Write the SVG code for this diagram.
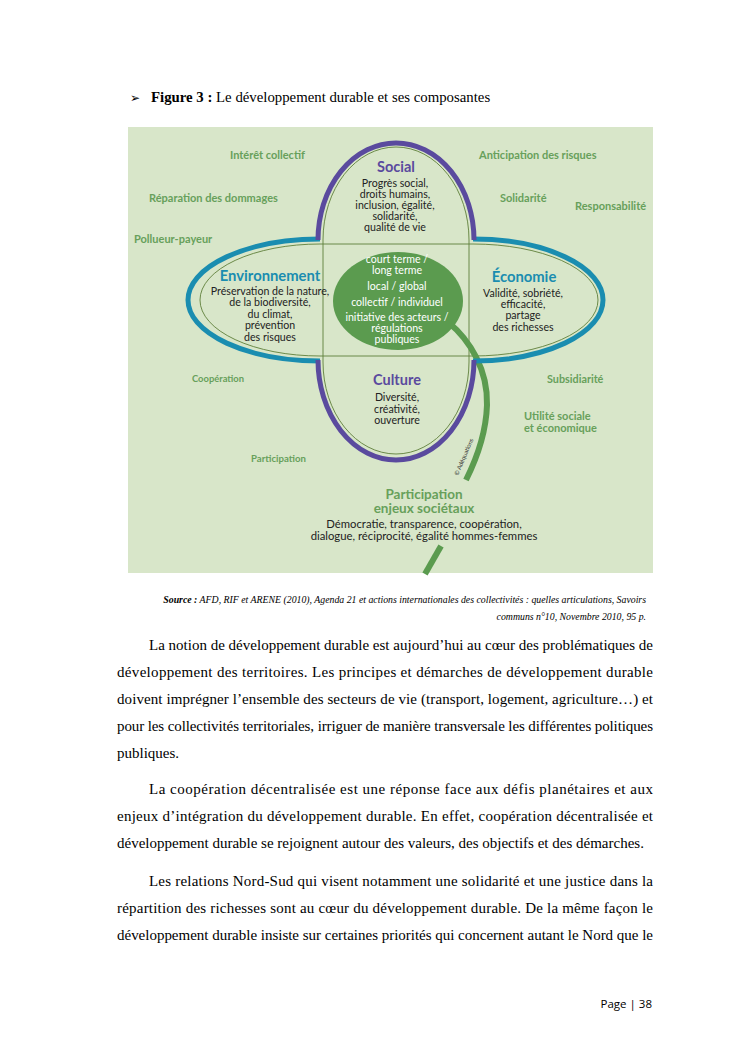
<svg xmlns="http://www.w3.org/2000/svg" width="745" height="1053" viewBox="0 0 745 1053">
<style>
.doc{font-family:"Liberation Serif","Times New Roman",serif;font-size:15px;fill:#000}
.dg{font-family:Lato,"Open Sans",sans-serif}
.out{font-family:Lato,"Open Sans",sans-serif;font-weight:bold;fill:#67a05b;font-size:11px}
.outs{font-family:Lato,"Open Sans",sans-serif;font-weight:bold;fill:#67a05b;font-size:9.4px}
.body{font-family:Lato,"Open Sans",sans-serif;fill:#222;font-size:10.6px;text-anchor:middle}
.ctr{font-family:Lato,"Open Sans",sans-serif;fill:#fff;font-size:10.6px;text-anchor:middle}
.tP{font-family:Lato,"Open Sans",sans-serif;font-weight:bold;fill:#5a4a9e;font-size:14.5px;text-anchor:middle}
.tT{font-family:Lato,"Open Sans",sans-serif;font-weight:bold;fill:#1a8db0;font-size:14.8px;text-anchor:middle}
.thick{fill:none;stroke-width:5}
.thin{fill:none;stroke:#5f7f3a;stroke-width:0.9}
</style>

<g id="page-header">
<text class="doc" x="130" y="102" style="font-size:12px">➢</text>
<text class="doc" x="151" y="102" style="font-size:14.8px"><tspan font-weight="bold">Figure 3 :</tspan> Le développement durable et ses composantes</text>
</g>

<g id="figure">
<rect x="128" y="127" width="525" height="446" fill="#d8e6c9"/>

<g id="thin-outlines">
<path class="thin" d="M 323 362 L 323 240 A 73 93 0 0 1 469 240 L 469 362 A 73 92 0 0 1 323 362 Z"/>
<path class="thin" d="M 320 244 L 473 244 A 125 56 0 0 1 473 356 L 320 356 A 120 56 0 0 1 320 244 Z"/>
</g>

<g id="connectors">
<path d="M 448 322 C 470 340 488 370 487 405 C 486 435 476 460 466 480" fill="none" stroke="#5b9b4f" stroke-width="6"/>
<path d="M 441 546 L 425 574" fill="none" stroke="#5b9b4f" stroke-width="6"/>
</g>

<g id="environnement">
<path class="thick" stroke="#1a8db0" d="M 320 239 A 132 61 0 0 0 320 361"/>
<text class="tT" x="270" y="281">Environnement</text>
<text class="body"><tspan x="270" y="295">Préservation de la nature,</tspan><tspan x="270" y="306">de la biodiversité,</tspan><tspan x="270" y="318">du climat,</tspan><tspan x="270" y="329">prévention</tspan><tspan x="270" y="341">des risques</tspan></text>
</g>

<g id="economie">
<path class="thick" stroke="#1a8db0" d="M 473 239 A 130 61 0 0 1 473 361"/>
<text class="tT" x="524" y="282">Économie</text>
<text class="body"><tspan x="523" y="297">Validité, sobriété,</tspan><tspan x="523" y="308">efficacité,</tspan><tspan x="523" y="319">partage</tspan><tspan x="523" y="331">des richesses</tspan></text>
</g>

<g id="social">
<path class="thick" stroke="#5a4a9e" d="M 318 240 A 78 97 0 0 1 474 240"/>
<text class="tP" x="396" y="172">Social</text>
<text class="body"><tspan x="395" y="187">Progrès social,</tspan><tspan x="395" y="198">droits humains,</tspan><tspan x="395" y="209">inclusion, égalité,</tspan><tspan x="395" y="220">solidarité,</tspan><tspan x="395" y="231">qualité de vie</tspan></text>
</g>

<g id="culture">
<path class="thick" stroke="#5a4a9e" d="M 318 360 A 78 100 0 0 0 474 360"/>
<text class="tP" x="397" y="385">Culture</text>
<text class="body"><tspan x="397" y="401">Diversité,</tspan><tspan x="397" y="413">créativité,</tspan><tspan x="397" y="424">ouverture</tspan></text>
</g>

<g id="centre">
<ellipse cx="398" cy="301" rx="65" ry="49" fill="#5b9b4f"/>
<text class="ctr"><tspan x="397" y="263">court terme /</tspan><tspan x="397" y="274">long terme</tspan><tspan x="397" y="290">local / global</tspan><tspan x="397" y="306">collectif / individuel</tspan><tspan x="397" y="321">initiative des acteurs /</tspan><tspan x="397" y="332">régulations</tspan><tspan x="397" y="343">publiques</tspan></text>
</g>

<g id="participation">
<text class="dg" x="424" y="499" font-size="13.5" font-weight="bold" fill="#67a05b" text-anchor="middle">Participation</text>
<text class="dg" x="424" y="513" font-size="13.5" font-weight="bold" fill="#67a05b" text-anchor="middle">enjeux sociétaux</text>
<text class="body" style="font-size:11.3px"><tspan x="424" y="528">Démocratie, transparence, coopération,</tspan><tspan x="424" y="540">dialogue, réciprocité, égalité hommes-femmes</tspan></text>
</g>

<g id="outer-labels">
<text class="out" x="230" y="159">Intérêt collectif</text>
<text class="out" x="149" y="202">Réparation des dommages</text>
<text class="out" x="134" y="243">Pollueur-payeur</text>
<text class="out" x="479" y="159">Anticipation des risques</text>
<text class="out" x="500" y="202">Solidarité</text>
<text class="out" x="575" y="210">Responsabilité</text>
<text class="outs" x="192" y="382">Coopération</text>
<text class="outs" x="547" y="383" style="font-size:10.8px">Subsidiarité</text>
<text class="outs" x="251" y="462" style="font-size:9.6px">Participation</text>
<text class="out" x="524" y="420">Utilité sociale</text>
<text class="out" x="524" y="432">et économique</text>
</g>

<text class="dg" x="0" y="0" font-size="6" fill="#333" transform="translate(458 476) rotate(-67)">© Adéquations</text>
</g>

<g id="source">
<text class="doc" x="646" y="603" style="font-size:9.8px" font-style="italic" text-anchor="end"><tspan font-weight="bold">Source :</tspan> AFD, RIF et ARENE (2010), Agenda 21 et actions internationales des collectivités : quelles articulations, Savoirs</text>
<text class="doc" x="646" y="620" style="font-size:9.8px" font-style="italic" text-anchor="end">communs n°10, Novembre 2010, 95 p.</text>
</g>

<g id="body-text">
<text class="doc" x="149" y="650" textLength="504" lengthAdjust="spacing">La notion de développement durable est aujourd’hui au cœur des problématiques de</text>
<text class="doc" x="117" y="677" textLength="536" lengthAdjust="spacing">développement des territoires. Les principes et démarches de développement durable</text>
<text class="doc" x="117" y="704" textLength="536" lengthAdjust="spacing">doivent imprégner l’ensemble des secteurs de vie (transport, logement, agriculture…) et</text>
<text class="doc" x="117" y="731" textLength="536" lengthAdjust="spacing">pour les collectivités territoriales, irriguer de manière transversale les différentes politiques</text>
<text class="doc" x="117" y="758">publiques.</text>
<text class="doc" x="149" y="794" textLength="504" lengthAdjust="spacing">La coopération décentralisée est une réponse face aux défis planétaires et aux</text>
<text class="doc" x="117" y="821" textLength="536" lengthAdjust="spacing">enjeux d’intégration du développement durable. En effet, coopération décentralisée et</text>
<text class="doc" x="117" y="848">développement durable se rejoignent autour des valeurs, des objectifs et des démarches.</text>
<text class="doc" x="149" y="886" textLength="504" lengthAdjust="spacing">Les relations Nord-Sud qui visent notamment une solidarité et une justice dans la</text>
<text class="doc" x="117" y="913" textLength="536" lengthAdjust="spacing">répartition des richesses sont au cœur du développement durable. De la même façon le</text>
<text class="doc" x="117" y="940" textLength="536" lengthAdjust="spacing">développement durable insiste sur certaines priorités qui concernent autant le Nord que le</text>
</g>

<g id="footer">
<text x="652" y="1008" font-family="'Open Sans',sans-serif" font-size="11.5" fill="#000" text-anchor="end">Page | 38</text>
</g>
</svg>
